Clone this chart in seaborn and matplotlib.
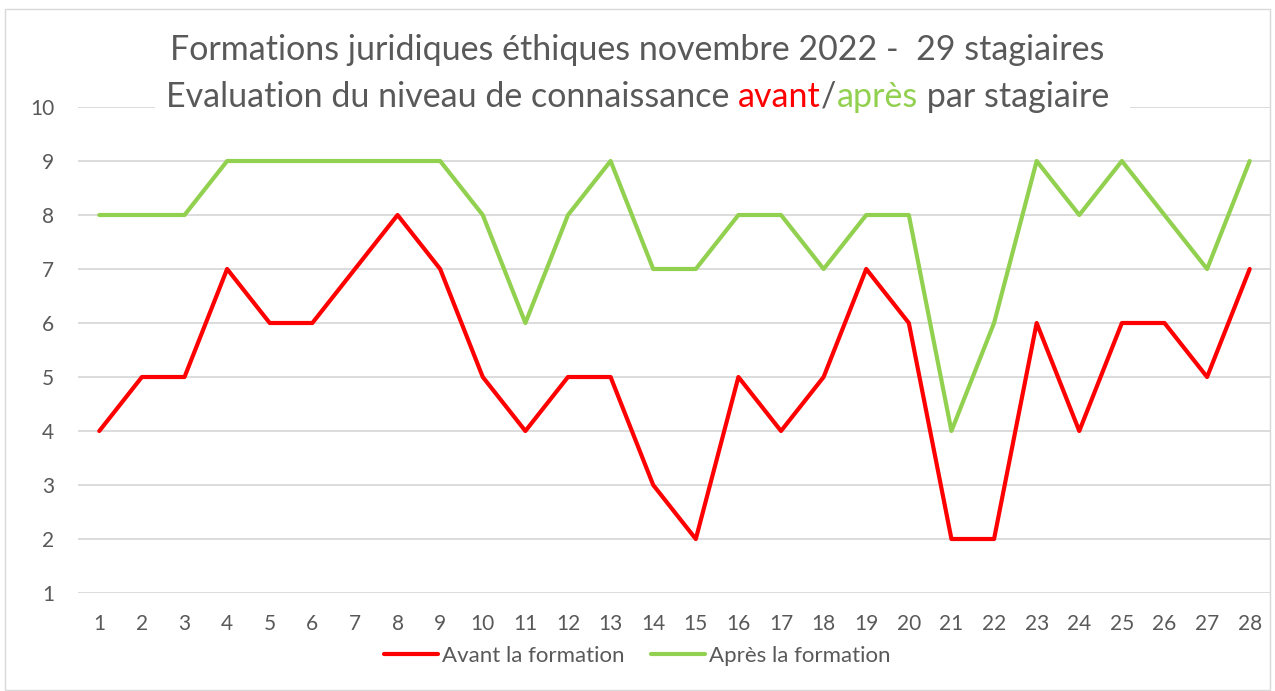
import pandas as pd
import matplotlib.pyplot as plt
import seaborn as sns
from matplotlib.patches import Rectangle

stagiaires = list(range(1, 29))
avant = [4, 5, 5, 7, 6, 6, 7, 8, 7, 5, 4, 5, 5, 3, 2, 5, 4, 5, 7, 6, 2, 2, 6, 4, 6, 6, 5, 7]
apres = [8, 8, 8, 9, 9, 9, 9, 9, 9, 8, 6, 8, 9, 7, 7, 8, 8, 7, 8, 8, 4, 6, 9, 8, 9, 8, 7, 9]
series = ['Avant la formation', 'Après la formation']
colors = ['#FF0000', '#92D050']

df = pd.DataFrame({
    'stagiaire': stagiaires * 2,
    'niveau': avant + apres,
    'serie': [series[0]] * len(avant) + [series[1]] * len(apres),
})

sns.set_style("white")
plt.rcParams['font.family'] = ['Lato', 'DejaVu Sans']
grey = '#595959'

fig = plt.figure(figsize=(12.75, 6.91), dpi=100)
ax = fig.add_axes([78 / 1275, (691 - 593) / 691, (1271 - 78) / 1275, (593 - 107) / 691])

sns.lineplot(data=df, x='stagiaire', y='niveau', hue='serie', palette=colors,
             linewidth=3, ax=ax, legend=False)
for ln in ax.lines:
    ln.set_solid_capstyle('round')

ax.set_xlim(0.5, 28.5)
ax.set_ylim(1, 10)
ax.set_xticks(stagiaires)
ax.set_yticks(range(1, 11))
ax.tick_params(axis='both', labelsize=15, colors=grey, length=0)
ax.tick_params(axis='x', pad=15)
ax.tick_params(axis='y', pad=17)
ax.grid(axis='y', color='#D9D9D9', linewidth=1.3)
ax.set_axisbelow(True)
for s in ax.spines.values():
    s.set_visible(False)
ax.set_xlabel('')
ax.set_ylabel('')

# chart border
fig.patches.append(Rectangle((5 / 1275, 0.002), 1 - 10 / 1275, 1 - 10 / 691, transform=fig.transFigure,
                             fill=False, edgecolor='#D9D9D9', linewidth=1))

# title, white box over the top gridline
fig.patches.append(Rectangle((155 / 1275, 1 - 118 / 691), (1130 - 155) / 1275, 100 / 691,
                             transform=fig.transFigure, facecolor='white', edgecolor='none', zorder=3))
fig.text(0.5, 1 - 50 / 691, 'Formations juridiques éthiques novembre 2022 -  29 stagiaires',
         ha='center', va='center', fontsize=24.5, color=grey, zorder=4)

parts = [('Evaluation du niveau de connaissance ', grey), ('avant', colors[0]), ('/', grey),
         ('après', colors[1]), (' par stagiaire', grey)]
fig.canvas.draw()
renderer = fig.canvas.get_renderer()
texts = []
for s, c in parts:
    t = fig.text(0, 1 - 97 / 691, s, ha='left', va='center', fontsize=24.5, color=c, zorder=4)
    texts.append(t)
widths = [t.get_window_extent(renderer).width for t in texts]
x = (1275 - sum(widths)) / 2
for t, w in zip(texts, widths):
    t.set_x(x / 1275)
    x += w

# legend
handles = [plt.Line2D([], [], color=c, linewidth=3, solid_capstyle='round') for c in colors]
fig.legend(handles, series, loc='center', bbox_to_anchor=(0.5, 1 - 656 / 691), ncol=2,
           frameon=False, fontsize=16, labelcolor=grey, handlelength=2.4, handletextpad=0.2,
           columnspacing=1.2)

fig.savefig('out.png', dpi=100)
